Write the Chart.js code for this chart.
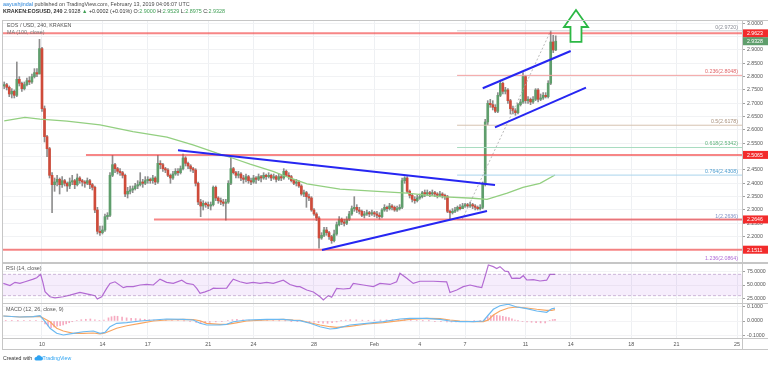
<!DOCTYPE html>
<html><head><meta charset="utf-8">
<script src="https://cdn.jsdelivr.net/npm/chart.js@4.4.1/dist/chart.umd.min.js"></script>
<style>
html,body{margin:0;padding:0;background:#fff;}
body{width:768px;height:365px;position:relative;overflow:hidden;font-family:"Liberation Sans",Arial,sans-serif;}
canvas{position:absolute;left:0;}
.t{position:absolute;white-space:nowrap;line-height:1;color:#4a4a4a;font-size:5.4px;}
.ln{position:absolute;background:#c6c6c6;}
.g{color:#3f9f55;}
</style></head><body>
<canvas id="cMain" width="768" height="263" style="top:0"></canvas>
<canvas id="cRsi" width="768" height="40" style="top:263px"></canvas>
<canvas id="cMacd" width="768" height="45" style="top:304px"></canvas>
<div class="ln" style="left:2px;top:20px;width:766px;height:1px"></div>
<div class="ln" style="left:2px;top:20px;width:1px;height:330px"></div>
<div class="ln" style="left:2px;top:262px;width:766px;height:1.5px"></div>
<div class="ln" style="left:2px;top:302.5px;width:766px;height:1.5px"></div>
<div class="ln" style="left:2px;top:338px;width:766px;height:1px"></div>
<div class="ln" style="left:2px;top:349px;width:766px;height:1px"></div>
<div class="ln" style="left:742px;top:338px;width:1px;height:11px"></div>
<div class="t" style="left:3px;top:1.5px"><span style="color:#2a84d8">aayushjindal</span> published on TradingView.com, February 13, 2019 04:06:07 UTC</div>
<div class="t" style="left:3px;top:9px;color:#333"><b>KRAKEN:EOSUSD, 240</b> 2.9328 <span class="g">&#9650;</span> +0.0002 (+0.01%) O:<span class="g">2.9000</span> H:<span class="g">2.9529</span> L:<span class="g">2.8975</span> C:<span class="g">2.9328</span></div>
<div class="t" style="left:7px;top:22.5px;color:#555">EOS / USD, 240, KRAKEN</div>
<div class="t" style="left:7px;top:29.5px;color:#777">MA (100, close)</div>
<div class="t" style="left:6px;top:266px;color:#555">RSI (14, close)</div>
<div class="t" style="left:6px;top:306.5px;color:#555">MACD (12, 26, close, 9)</div>
<div class="t" style="left:3px;top:355px;color:#333;font-size:5.2px">Created with <svg width="9" height="6" viewBox="0 0 18 12" style="vertical-align:-1px"><path d="M4 11h10a4 4 0 0 0 0-8 5 5 0 0 0-9 1 3.5 3.5 0 0 0-1 7z" fill="#2ea3f2"/></svg><span style="color:#2ea3f2">TradingView</span></div>
<script>
// ---- time axis (days counted from Jan 0, 2019; Feb 1 = 32) ----
const dateTicks = [10,14,17,21,24,28,32,35,38,42,45,49,52,56];
const tickLabels = ['10','14','17','21','24','28','Feb','4','7','11','14','18','21','25'];
const firstCandleDay = 7.5;        // Jan 7, 12:00
const candleStepDays = 4/24;       // 240-minute candles

// ---- EOS/USD 4h candles ----
const opens = [
2.765,2.77,2.76,2.735,2.745,2.73,2.79,2.775,2.755,2.77,
2.785,2.78,2.80,2.815,2.81,2.905,2.68,2.575,2.53,2.43,
2.395,2.405,2.415,2.395,2.41,2.40,2.39,2.405,2.41,2.395,
2.42,2.41,2.405,2.40,2.41,2.395,2.385,2.30,2.22,2.215,
2.225,2.275,2.28,2.43,2.47,2.455,2.445,2.44,2.43,2.36,
2.37,2.375,2.38,2.39,2.395,2.405,2.40,2.41,2.415,2.41,
2.42,2.405,2.475,2.47,2.455,2.45,2.43,2.42,2.435,2.445,
2.44,2.455,2.495,2.475,2.465,2.455,2.45,2.40,2.33,2.315,
2.325,2.32,2.315,2.32,2.385,2.345,2.335,2.33,2.325,2.33,
2.40,2.455,2.44,2.43,2.435,2.42,2.415,2.425,2.41,2.405,
2.42,2.415,2.425,2.42,2.43,2.425,2.43,2.42,2.425,2.415,
2.425,2.42,2.445,2.43,2.425,2.41,2.40,2.405,2.39,2.36,
2.365,2.35,2.345,2.30,2.285,2.27,2.195,2.205,2.225,2.215,
2.20,2.185,2.21,2.245,2.265,2.255,2.25,2.265,2.285,2.305,
2.31,2.30,2.295,2.28,2.285,2.29,2.285,2.29,2.285,2.28,
2.275,2.30,2.31,2.305,2.315,2.31,2.30,2.305,2.31,2.41,
2.42,2.37,2.355,2.34,2.335,2.345,2.35,2.365,2.36,2.365,
2.36,2.365,2.36,2.355,2.36,2.355,2.35,2.295,2.29,2.295,
2.30,2.31,2.305,2.315,2.32,2.315,2.32,2.315,2.31,2.305,
2.31,2.40,2.63,2.70,2.695,2.685,2.67,2.73,2.775,2.745,
2.75,2.71,2.68,2.672,2.665,2.695,2.705,2.80,2.71,2.715,
2.705,2.715,2.75,2.715,2.72,2.73,2.725,2.775,2.93,2.90];
const highs = [
2.78,2.775,2.765,2.755,2.75,2.855,2.80,2.78,2.78,2.795,
2.80,2.81,2.83,2.83,2.94,2.91,2.69,2.58,2.535,2.44,
2.42,2.43,2.42,2.425,2.415,2.405,2.42,2.43,2.415,2.435,
2.425,2.415,2.41,2.42,2.415,2.40,2.39,2.31,2.24,2.24,
2.285,2.29,2.44,2.505,2.475,2.46,2.455,2.445,2.435,2.385,
2.39,2.39,2.40,2.41,2.44,2.415,2.425,2.425,2.42,2.43,
2.425,2.505,2.485,2.475,2.46,2.455,2.435,2.445,2.455,2.455,
2.465,2.51,2.50,2.48,2.47,2.46,2.455,2.405,2.34,2.335,
2.33,2.33,2.33,2.39,2.39,2.35,2.345,2.34,2.34,2.41,
2.495,2.46,2.445,2.445,2.44,2.43,2.435,2.43,2.42,2.43,
2.425,2.435,2.43,2.44,2.435,2.44,2.435,2.435,2.43,2.435,
2.43,2.455,2.45,2.44,2.43,2.415,2.415,2.41,2.395,2.375,
2.37,2.36,2.35,2.305,2.29,2.275,2.215,2.235,2.235,2.22,
2.205,2.225,2.255,2.275,2.27,2.265,2.275,2.295,2.315,2.35,
2.32,2.31,2.30,2.295,2.30,2.295,2.30,2.295,2.295,2.29,
2.305,2.32,2.315,2.325,2.32,2.315,2.315,2.32,2.42,2.425,
2.425,2.375,2.36,2.35,2.355,2.36,2.37,2.375,2.375,2.37,
2.375,2.37,2.365,2.37,2.365,2.36,2.355,2.30,2.305,2.31,
2.315,2.32,2.325,2.325,2.325,2.33,2.325,2.32,2.315,2.32,
2.405,2.64,2.71,2.715,2.71,2.695,2.74,2.787,2.78,2.76,
2.755,2.715,2.69,2.68,2.70,2.715,2.815,2.805,2.725,2.72,
2.725,2.755,2.755,2.735,2.74,2.74,2.785,2.972,2.955,2.9529];
const lows = [
2.755,2.75,2.725,2.72,2.72,2.725,2.765,2.745,2.75,2.765,
2.77,2.775,2.795,2.80,2.81,2.67,2.555,2.50,2.42,2.29,
2.37,2.39,2.36,2.385,2.39,2.37,2.38,2.395,2.38,2.39,
2.40,2.39,2.385,2.395,2.38,2.375,2.29,2.21,2.205,2.21,
2.22,2.265,2.275,2.425,2.44,2.435,2.43,2.42,2.35,2.345,
2.36,2.365,2.375,2.38,2.39,2.385,2.395,2.40,2.40,2.40,
2.395,2.40,2.455,2.445,2.44,2.425,2.40,2.415,2.43,2.43,
2.435,2.45,2.465,2.455,2.445,2.44,2.39,2.32,2.275,2.30,
2.31,2.305,2.30,2.315,2.335,2.325,2.32,2.315,2.262,2.325,
2.395,2.435,2.42,2.42,2.41,2.40,2.405,2.40,2.395,2.40,
2.40,2.41,2.405,2.415,2.415,2.42,2.41,2.415,2.405,2.41,
2.41,2.415,2.425,2.415,2.405,2.395,2.39,2.385,2.355,2.35,
2.31,2.335,2.295,2.28,2.26,2.157,2.19,2.20,2.205,2.19,
2.175,2.18,2.205,2.24,2.245,2.24,2.245,2.26,2.28,2.295,
2.29,2.285,2.275,2.27,2.28,2.275,2.28,2.275,2.27,2.265,
2.27,2.295,2.295,2.30,2.30,2.295,2.295,2.30,2.305,2.40,
2.365,2.345,2.33,2.325,2.33,2.34,2.345,2.35,2.355,2.35,
2.355,2.35,2.345,2.35,2.345,2.34,2.29,2.2636,2.285,2.29,
2.295,2.30,2.305,2.31,2.31,2.31,2.305,2.30,2.30,2.30,
2.305,2.39,2.62,2.685,2.675,2.665,2.665,2.725,2.735,2.735,
2.70,2.66,2.66,2.655,2.66,2.69,2.70,2.70,2.70,2.695,
2.70,2.71,2.705,2.71,2.715,2.72,2.72,2.77,2.89,2.8975];
const closes = [
2.77,2.76,2.735,2.745,2.73,2.79,2.775,2.755,2.77,2.785,
2.78,2.80,2.815,2.81,2.905,2.68,2.575,2.53,2.43,2.395,
2.405,2.415,2.395,2.41,2.40,2.39,2.405,2.41,2.395,2.42,
2.41,2.405,2.40,2.41,2.395,2.385,2.30,2.22,2.215,2.225,
2.275,2.28,2.43,2.47,2.455,2.445,2.44,2.43,2.36,2.37,
2.375,2.38,2.39,2.395,2.405,2.40,2.41,2.415,2.41,2.42,
2.405,2.475,2.47,2.455,2.45,2.43,2.42,2.435,2.445,2.44,
2.455,2.495,2.475,2.465,2.455,2.45,2.40,2.33,2.315,2.325,
2.32,2.315,2.32,2.385,2.345,2.335,2.33,2.325,2.33,2.40,
2.455,2.44,2.43,2.435,2.42,2.415,2.425,2.41,2.405,2.42,
2.415,2.425,2.42,2.43,2.425,2.43,2.42,2.425,2.415,2.425,
2.42,2.445,2.43,2.425,2.41,2.40,2.405,2.39,2.36,2.365,
2.35,2.345,2.30,2.285,2.27,2.195,2.205,2.225,2.215,2.20,
2.185,2.21,2.245,2.265,2.255,2.25,2.265,2.285,2.305,2.31,
2.30,2.295,2.28,2.285,2.29,2.285,2.29,2.285,2.28,2.275,
2.30,2.31,2.305,2.315,2.31,2.30,2.305,2.31,2.41,2.42,
2.37,2.355,2.34,2.335,2.345,2.35,2.365,2.36,2.365,2.36,
2.365,2.36,2.355,2.36,2.355,2.35,2.295,2.29,2.295,2.30,
2.31,2.305,2.315,2.32,2.315,2.32,2.315,2.31,2.305,2.31,
2.40,2.63,2.70,2.695,2.685,2.67,2.73,2.775,2.745,2.75,
2.71,2.68,2.672,2.665,2.695,2.705,2.80,2.71,2.715,2.705,
2.715,2.75,2.715,2.72,2.73,2.725,2.775,2.93,2.90,2.9328];

// ---- MA(100, close) ----
const maDays = [7.5,8.87,9.87,11.65,13.84,16.02,18.27,19.99,21.58,22.64,23.77,25.29,26.41,27.54,29.72,31.91,34.16,36.34,38.53,39.45,40.79,41.83,42.96,43.95];
const maValues = [2.634,2.647,2.641,2.633,2.619,2.594,2.573,2.544,2.513,2.494,2.472,2.445,2.42,2.398,2.378,2.371,2.363,2.35,2.344,2.34,2.363,2.385,2.40,2.431];

// ---- RSI(14) ----
const rsiDays = [7.44,7.88,8.21,8.54,8.88,9.42,9.65,9.91,10.05,10.20,10.53,10.86,11.41,11.85,12.51,13.18,13.51,13.66,13.95,14.28,14.50,14.83,15.38,15.61,16.04,16.49,16.93,17.37,17.81,18.25,18.69,19.25,19.58,20.01,20.24,20.46,20.79,21.12,21.34,21.56,22.22,22.44,22.66,23.10,23.55,23.98,24.43,24.87,25.31,25.97,26.41,26.86,27.07,27.52,27.96,28.40,28.62,28.95,29.17,29.50,29.94,30.38,30.60,31.26,31.93,32.37,33.03,33.47,33.69,34.14,34.57,35.02,35.90,36.78,37.00,37.45,37.88,38.33,38.77,39.10,39.32,39.54,39.87,40.09,40.31,40.64,40.86,41.09,41.42,41.63,41.85,42.08,42.52,42.96,43.40,43.62,43.95];
const rsiValues = [53,49,55,53,56,61,63.7,70,56,37.5,28,26,28,31,36,32,30,23.75,28,43.7,53,56,45,47,47,50,51,50,61,55,53,59,53,51,43.7,34.4,37,40.6,44,43.7,44,53,61,56,53,55,53,55,53,59,51,47,47,40.6,37,28,22,30,27,43.7,42.5,43.7,53,50,47,53,51,56,72,62.5,53,57,57,56,36,40.6,47,50,47,45,65.6,87.5,84.4,81,84.4,76,75,62.5,63,62.5,67.5,59.4,60,57.5,59,70,70];
const rsiBand = [70, 30];

// ---- MACD(12,26,9) ----
const macdDays = [7.44,8.54,9.42,9.87,10.20,10.53,10.97,11.41,12.07,12.73,13.40,13.84,14.17,14.50,14.94,15.61,16.49,17.37,18.25,19.35,20.01,20.46,20.90,21.78,22.22,22.66,23.55,24.87,25.97,26.63,27.07,27.74,28.40,29.06,29.50,30.38,31.49,32.59,33.69,34.35,35.46,36.34,37.00,37.66,38.54,39.21,39.54,39.87,40.31,40.86,41.42,42.08,42.74,43.40,43.73,43.95];
const macdLine = [0.035,0.028,0.030,0.037,-0.005,-0.051,-0.086,-0.098,-0.086,-0.075,-0.070,-0.086,-0.080,-0.040,-0.016,-0.012,0.000,0.007,0.014,0.012,0.007,-0.016,-0.028,-0.028,-0.023,-0.005,0.007,0.012,0.012,0.005,0.003,-0.016,-0.040,-0.056,-0.051,-0.028,-0.016,-0.005,0.014,0.019,0.019,0.012,0.000,-0.005,-0.005,0.000,0.042,0.082,0.107,0.117,0.098,0.086,0.070,0.061,0.086,0.090];
const signalLine = [0.035,0.028,0.030,0.032,0.014,-0.005,-0.051,-0.070,-0.086,-0.086,-0.084,-0.090,-0.084,-0.070,-0.051,-0.033,-0.016,0.000,0.007,0.012,0.009,0.002,-0.016,-0.023,-0.023,-0.016,0.000,0.007,0.012,0.007,0.005,-0.012,-0.028,-0.040,-0.044,-0.037,-0.021,-0.012,0.002,0.012,0.019,0.016,0.007,0.000,-0.005,-0.004,0.007,0.042,0.070,0.091,0.098,0.091,0.082,0.075,0.075,0.079];
const histDays = [7.6,8.0,8.4,8.8,9.2,9.6,10.0,10.2,10.4,10.6,10.8,11.0,11.2,11.4,11.6,11.8,12.0,12.3,12.6,12.9,13.2,13.5,13.8,14.1,14.4,14.6,14.8,15.0,15.3,15.6,15.9,16.2,16.5,16.8,17.1,17.4,17.8,18.2,18.6,19.0,19.4,19.8,20.2,20.5,20.8,21.1,21.5,21.9,22.3,22.6,22.9,23.3,23.7,24.1,24.5,24.9,25.3,25.7,26.1,26.5,26.9,27.3,27.7,28.0,28.3,28.6,28.9,29.2,29.5,29.8,30.1,30.4,30.8,31.2,31.6,32.0,32.4,32.8,33.2,33.6,34.0,34.4,34.8,35.2,35.6,36.0,36.4,36.8,37.1,37.4,37.8,38.2,38.6,39.0,39.3,39.5,39.7,39.9,40.1,40.3,40.5,40.7,40.9,41.1,41.3,41.5,41.8,42.1,42.4,42.7,43.0,43.3,43.6,43.8,43.95];
const histValues = [0.002,0.002,0.001,0.002,0.003,0.004,-0.005,-0.02,-0.035,-0.046,-0.042,-0.036,-0.032,-0.028,-0.02,-0.012,-0.005,0.004,0.009,0.012,0.014,0.008,0.004,0.006,0.022,0.03,0.034,0.033,0.028,0.022,0.019,0.017,0.015,0.012,0.009,0.007,0.007,0.006,0.004,0.002,0.001,-0.002,-0.01,-0.018,-0.014,-0.01,-0.006,-0.003,0.002,0.009,0.011,0.009,0.007,0.006,0.005,0.004,0.002,0.001,0.001,-0.002,-0.002,-0.003,-0.005,-0.009,-0.012,-0.015,-0.016,-0.012,-0.007,0.001,0.006,0.009,0.008,0.006,0.005,0.006,0.007,0.008,0.009,0.012,0.011,0.007,0.004,0.001,0.001,-0.002,-0.004,-0.006,-0.007,-0.006,-0.004,-0.002,0.001,0.002,0.01,0.03,0.038,0.04,0.039,0.036,0.032,0.028,0.024,0.016,0.006,0.001,-0.004,-0.006,-0.009,-0.011,-0.013,-0.014,0.004,0.01,0.011];

// ---- drawings ----
const priceTicks = [2.15,2.20,2.25,2.30,2.35,2.40,2.45,2.50,2.55,2.60,2.65,2.70,2.75,2.80,2.85,2.90,2.95,3.00];
const rsiTicks = [25,50,75];
const macdTicks = [-0.1,0,0.1];
const srLevels = [2.9623, 2.5065, 2.2646, 2.1511];
const srStartDays = [7.42, 12.91, 17.41, 7.42];
const lastPrice = 2.9328;
const trendFromDays = [19.0, 28.53, 39.17, 39.98];
const trendFromPrices = [2.5238, 2.150, 2.7563, 2.610];
const trendToDays = [39.98, 39.45, 44.99, 46.0];
const trendToPrices = [2.3937, 2.2962, 2.8961, 2.7585];
const fibRatios = ['0','0.236','0.5','0.618','0.764','1','1.236'];
const fibPrices = [2.9720, 2.8048, 2.6178, 2.5342, 2.4308, 2.2636, 2.0864];
const fibStartDay = 37.47;
const fibSwingDays = [37.8, 43.67];
const fibSwingPrices = [2.2636, 2.9720];
const arrowDay = 45.34, arrowTipPrice = 3.0499, arrowBasePrice = 2.930;

// ---- styles ----
const FONT = '"Liberation Sans", Arial, sans-serif';
const XMIN = 7.419, XMAX = 56.327;
const UP = '#5f9e6c', DOWN = '#cf4b3a', WICK = '#8e8e8e';
const fibTextColors = ['#8a8d96','#e0666a','#a88f7a','#5fb37c','#4f9fd0','#7f8fc4','#b06bd6'];
const fibLineColors = ['#cfd1d6','#f2a0a0','#d6c2b0','#a8dcc0','#a9d4ec','#c5c9e0','#dcb8ea'];

function xScale(showLabels){
  return {
    type:'linear', min:XMIN, max:XMAX, offset:false,
    afterBuildTicks: s => { s.ticks = dateTicks.map(v=>({value:v})); },
    afterFit: s => { s.height = showLabels ? 11 : 0; s.paddingLeft = 0; s.paddingRight = 0; },
    grid:{color:'#eef0f3', lineWidth:1, drawTicks:false, offset:false},
    border:{display:false},
    ticks:{display:showLabels, autoSkip:false, maxRotation:0, padding:3, color:'#555', font:{size:5.4, family:FONT},
      callback:(v)=> tickLabels[dateTicks.indexOf(v)] }
  };
}
function yScale(min,max,ticks,gridColor){
  return {
    type:'linear', position:'right', min, max,
    afterBuildTicks: s => { s.ticks = ticks.map(v=>({value:v})); },
    afterFit: s => { s.width = 26; s.paddingTop = 0; s.paddingBottom = 0; },
    grid:{color:gridColor, drawTicks:true, tickLength:3, tickColor:'#a0a0a0'},
    border:{display:true, color:'#c6c6c6'},
    ticks:{padding:2, color:'#555', font:{size:5.2, family:FONT}, callback:v=>Number(v).toFixed(4)}
  };
}
const baseOpts = (padding) => ({
  responsive:false, animation:false, events:[],
  layout:{padding},
  plugins:{legend:{display:false}, tooltip:{enabled:false}},
  elements:{point:{radius:0}, line:{tension:0}}
});

const candleDays = closes.map((_,i)=> firstCandleDay + i*candleStepDays);
const upFlags = closes.map((c,i)=> c >= opens[i]);
const seg = (d0,p0,d1,p1) => [{x:d0,y:p0},{x:d1,y:p1}];

const mainDatasets = [
  {type:'bar', data:candleDays.map((d,i)=>({x:d,y:[lows[i],highs[i]]})), backgroundColor:WICK, barThickness:1, grouped:false, order:20},
  {type:'bar', data:candleDays.map((d,i)=>({x:d,y:[opens[i],closes[i]]})), backgroundColor:upFlags.map(u=>u?UP:DOWN), barThickness:2, grouped:false, minBarLength:1, order:19},
  {type:'line', data:maDays.map((d,k)=>({x:d,y:maValues[k]})), borderColor:'#93cf80', borderWidth:1.3, pointRadius:0, order:15},
];
fibPrices.forEach((p,k)=> mainDatasets.push({type:'line', data:seg(fibStartDay,p,XMAX,p), borderColor:fibLineColors[k], borderWidth:1, pointRadius:0, order:12}));
mainDatasets.push({type:'line', data:seg(fibSwingDays[0],fibSwingPrices[0],fibSwingDays[1],fibSwingPrices[1]), borderColor:'#a9a9a9', borderWidth:0.8, borderDash:[2,2], pointRadius:0, order:11});
srLevels.forEach((p,k)=> mainDatasets.push({type:'line', data:seg(srStartDays[k],p,XMAX,p), borderColor:'rgba(242,60,60,0.62)', borderWidth:2, pointRadius:0, order:5}));
trendFromDays.forEach((d,k)=> mainDatasets.push({type:'line', data:seg(d,trendFromPrices[k],trendToDays[k],trendToPrices[k]), borderColor:'#2626f2', borderWidth:2, pointRadius:0, order:4}));

const mainOverlay = {
  id:'mainOverlay',
  afterDraw(chart){
    const {ctx, chartArea:a} = chart; const x = chart.scales.x, y = chart.scales.y;
    ctx.save();
    ctx.font = '5.3px ' + FONT; ctx.textAlign = 'right'; ctx.textBaseline = 'bottom';
    fibPrices.forEach((p,k)=>{
      let py = y.getPixelForValue(p) - 1;
      if (py > a.bottom - 0.5) py = a.bottom - 0.5;
      ctx.fillStyle = fibTextColors[k];
      ctx.fillText(fibRatios[k] + '(' + p.toFixed(4) + ')', a.right - 4, py);
    });
    const box = (p, bg) => {
      const py = y.getPixelForValue(p);
      ctx.fillStyle = bg; ctx.fillRect(a.right + 1, py - 4, 26, 8);
      ctx.fillStyle = '#fff'; ctx.font = '5.2px ' + FONT; ctx.textAlign = 'left'; ctx.textBaseline = 'middle';
      ctx.fillText(p.toFixed(4), a.right + 5, py + 0.5);
    };
    srLevels.forEach(p => box(p, '#f22b2b'));
    box(lastPrice, '#5f9e6c');
    // up arrow
    const ax = x.getPixelForValue(arrowDay), ty = y.getPixelForValue(arrowTipPrice), by = y.getPixelForValue(arrowBasePrice);
    const hh = 17, hw = 12, sw = 5.5;
    ctx.beginPath();
    ctx.moveTo(ax, ty); ctx.lineTo(ax+hw, ty+hh); ctx.lineTo(ax+sw, ty+hh); ctx.lineTo(ax+sw, by);
    ctx.lineTo(ax-sw, by); ctx.lineTo(ax-sw, ty+hh); ctx.lineTo(ax-hw, ty+hh); ctx.closePath();
    ctx.fillStyle = '#fff'; ctx.fill();
    ctx.strokeStyle = '#2cb845'; ctx.lineWidth = 1.8; ctx.lineJoin = 'miter'; ctx.stroke();
    ctx.restore();
  }
};

new Chart(document.getElementById('cMain'), {
  type:'line',
  data:{datasets:mainDatasets},
  options:Object.assign(baseOpts({left:3, top:20, right:0, bottom:1}), {
    scales:{ x:xScale(false), y:yScale(2.10499, 3.01237, priceTicks, '#f1f2f4') }
  }),
  plugins:[mainOverlay]
});

new Chart(document.getElementById('cRsi'), {
  type:'line',
  data:{datasets:[
    {data:seg(XMIN,rsiBand[0],XMAX,rsiBand[0]), borderColor:'rgba(150,110,170,0.65)', borderWidth:0.7, borderDash:[3,2], pointRadius:0, fill:false},
    {data:seg(XMIN,rsiBand[1],XMAX,rsiBand[1]), borderColor:'rgba(150,110,170,0.65)', borderWidth:0.7, borderDash:[3,2], pointRadius:0, fill:'-1', backgroundColor:'rgba(160,60,220,0.09)'},
    {data:rsiDays.map((d,k)=>({x:d,y:rsiValues[k]})), borderColor:'#b56fd2', borderWidth:1.2, pointRadius:0, fill:false}
  ]},
  options:Object.assign(baseOpts({left:3, top:0, right:0, bottom:0}), {
    scales:{ x:xScale(false), y:yScale(16.25, 91.25, rsiTicks, '#f3f3f5') }
  })
});

new Chart(document.getElementById('cMacd'), {
  type:'line',
  data:{datasets:[
    {type:'bar', data:histDays.map((d,k)=>({x:d,y:histValues[k]})), backgroundColor:'rgba(238,100,140,0.55)', barThickness:1, grouped:false, order:5},
    {type:'line', data:macdDays.map((d,k)=>({x:d,y:signalLine[k]})), borderColor:'#f8a560', borderWidth:1.2, pointRadius:0, order:2},
    {type:'line', data:macdDays.map((d,k)=>({x:d,y:macdLine[k]})), borderColor:'#6bb9f1', borderWidth:1.2, pointRadius:0, order:1}
  ]},
  options:Object.assign(baseOpts({left:3, top:0, right:0, bottom:0}), {
    scales:{ x:xScale(true), y:yScale(-0.1189, 0.1189, macdTicks, '#f3f3f5') }
  })
});
</script>
</body></html>
